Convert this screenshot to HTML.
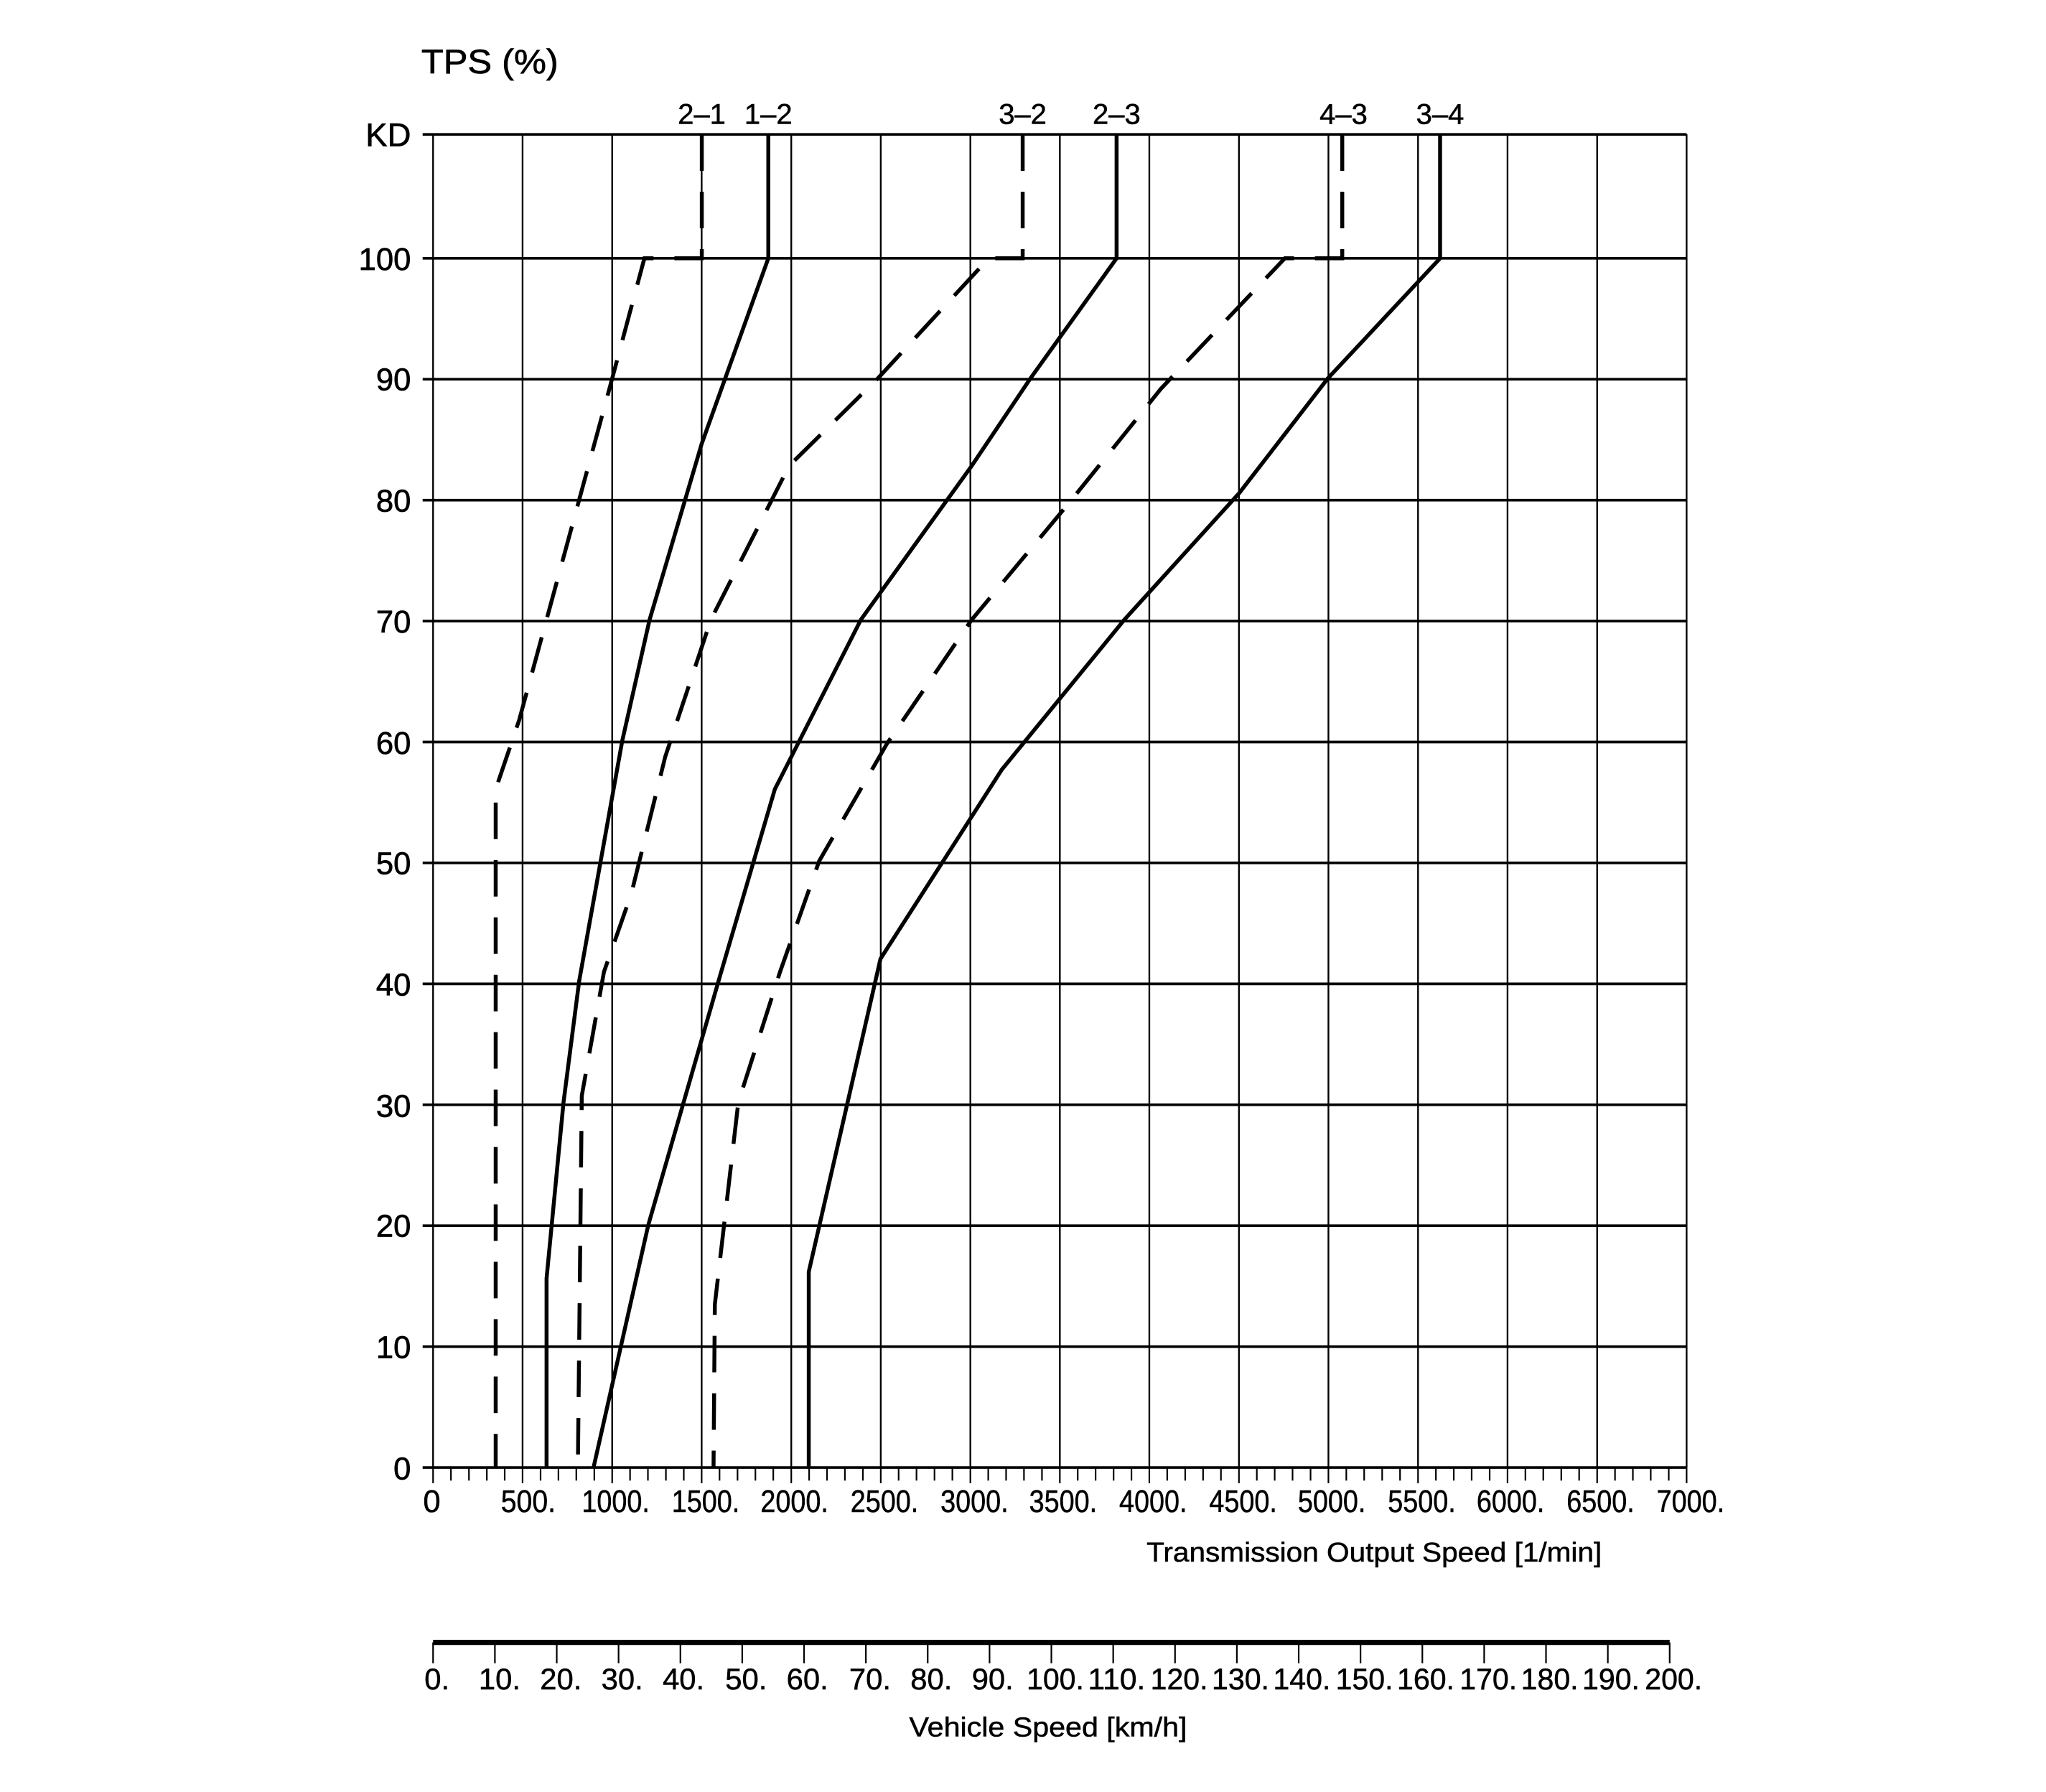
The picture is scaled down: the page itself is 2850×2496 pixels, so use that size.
<!DOCTYPE html>
<html><head><meta charset="utf-8"><style>html,body{margin:0;padding:0;background:#fff}svg{display:block}</style></head><body>
<svg width="2850" height="2496" viewBox="0 0 1568.5 1373.7" xmlns="http://www.w3.org/2000/svg" font-family="Liberation Sans, sans-serif" fill="#000">
<rect width="1568.5" height="1373.7" fill="#fff"/>
<g stroke="#000" stroke-width="1.3">
<line x1="332" y1="103" x2="332" y2="1125"/><line x1="400.6" y1="103" x2="400.6" y2="1125"/><line x1="469.3" y1="103" x2="469.3" y2="1125"/><line x1="537.9" y1="103" x2="537.9" y2="1125"/><line x1="606.6" y1="103" x2="606.6" y2="1125"/><line x1="675.2" y1="103" x2="675.2" y2="1125"/><line x1="743.9" y1="103" x2="743.9" y2="1125"/><line x1="812.5" y1="103" x2="812.5" y2="1125"/><line x1="881.1" y1="103" x2="881.1" y2="1125"/><line x1="949.8" y1="103" x2="949.8" y2="1125"/><line x1="1018.4" y1="103" x2="1018.4" y2="1125"/><line x1="1087.1" y1="103" x2="1087.1" y2="1125"/><line x1="1155.7" y1="103" x2="1155.7" y2="1125"/><line x1="1224.4" y1="103" x2="1224.4" y2="1125"/><line x1="1293" y1="103" x2="1293" y2="1125"/>
</g>
<g stroke="#000" stroke-width="2">
<line x1="324" y1="103" x2="1293" y2="103"/><line x1="324" y1="198" x2="1293" y2="198"/><line x1="324" y1="290.7" x2="1293" y2="290.7"/><line x1="324" y1="383.4" x2="1293" y2="383.4"/><line x1="324" y1="476.1" x2="1293" y2="476.1"/><line x1="324" y1="568.8" x2="1293" y2="568.8"/><line x1="324" y1="661.5" x2="1293" y2="661.5"/><line x1="324" y1="754.2" x2="1293" y2="754.2"/><line x1="324" y1="846.9" x2="1293" y2="846.9"/><line x1="324" y1="939.6" x2="1293" y2="939.6"/><line x1="324" y1="1032.3" x2="1293" y2="1032.3"/><line x1="324" y1="1125" x2="1293" y2="1125"/>
</g>
<path stroke="#000" stroke-width="1.2" d="M332 1125V1137M345.7 1125V1135M359.5 1125V1135M373.2 1125V1135M386.9 1125V1135M400.6 1125V1137M414.4 1125V1135M428.1 1125V1135M441.8 1125V1135M455.6 1125V1135M469.3 1125V1137M483 1125V1135M496.7 1125V1135M510.5 1125V1135M524.2 1125V1135M537.9 1125V1137M551.6 1125V1135M565.4 1125V1135M579.1 1125V1135M592.8 1125V1135M606.6 1125V1137M620.3 1125V1135M634 1125V1135M647.7 1125V1135M661.5 1125V1135M675.2 1125V1137M688.9 1125V1135M702.6 1125V1135M716.4 1125V1135M730.1 1125V1135M743.9 1125V1137M757.6 1125V1135M771.3 1125V1135M785 1125V1135M798.8 1125V1135M812.5 1125V1137M826.2 1125V1135M839.9 1125V1135M853.7 1125V1135M867.4 1125V1135M881.1 1125V1137M894.8 1125V1135M908.6 1125V1135M922.3 1125V1135M936 1125V1135M949.8 1125V1137M963.5 1125V1135M977.2 1125V1135M990.9 1125V1135M1004.7 1125V1135M1018.4 1125V1137M1032.1 1125V1135M1045.8 1125V1135M1059.6 1125V1135M1073.3 1125V1135M1087.1 1125V1137M1100.8 1125V1135M1114.5 1125V1135M1128.2 1125V1135M1142 1125V1135M1155.7 1125V1137M1169.4 1125V1135M1183.1 1125V1135M1196.9 1125V1135M1210.6 1125V1135M1224.4 1125V1137M1238.1 1125V1135M1251.8 1125V1135M1265.5 1125V1135M1279.3 1125V1135M1293 1125V1137"/>
<g fill="none" stroke="#000" stroke-width="3" stroke-linejoin="miter">
<polyline points="589,103 589,198 538,340 498,475 477,568 444,752 432,845 419,980 419,1125"/>
<polyline points="856,103 856,198 790,290 745,357 660,475 594,605 552,748 497,939 455,1125"/>
<polyline points="1104,103 1104,198 1018,290 950,378 862,475 768,590 675,735 620,975 620,1125"/>
</g>
<g fill="none" stroke="#000" stroke-width="3" stroke-dasharray="28,16">
<polyline points="538,103 538,198 494,198 468,295 398,552 380,605 380,1125"/>
<polyline points="784,103 784,198 758,198 673,290 605,357 545,475 510,580 484,685 463,745 446,840 443,1125"/>
<polyline points="1029,103 1029,198 985,198 890,298 820,385 745,475 680,570 628,660 598,745 566,845 548,1000 547,1125"/>
</g>
<line x1="332" y1="1259" x2="1280" y2="1259" stroke="#000" stroke-width="4"/>
<path stroke="#000" stroke-width="1.2" d="M332 1259V1275M379.4 1259V1275M426.8 1259V1275M474.2 1259V1275M521.6 1259V1275M569 1259V1275M616.4 1259V1275M663.8 1259V1275M711.2 1259V1275M758.6 1259V1275M806 1259V1275M853.4 1259V1275M900.8 1259V1275M948.2 1259V1275M995.6 1259V1275M1043 1259V1275M1090.4 1259V1275M1137.8 1259V1275M1185.2 1259V1275M1232.6 1259V1275M1280 1259V1275"/>
<g font-size="24" text-anchor="end" stroke="#000" stroke-width="0.4">
<text x="315" y="112" font-size="25">KD</text><text x="315" y="207">100</text><text x="315" y="299">90</text><text x="315" y="392">80</text><text x="315" y="485">70</text><text x="315" y="578">60</text><text x="315" y="670">50</text><text x="315" y="763">40</text><text x="315" y="856">30</text><text x="315" y="948">20</text><text x="315" y="1041">10</text><text x="315" y="1134">0</text>
</g>
<text x="323" y="56" font-size="26" textLength="105" lengthAdjust="spacingAndGlyphs" stroke="#000" stroke-width="0.4">TPS (%)</text>
<g font-size="22" text-anchor="middle" stroke="#000" stroke-width="0.3">
<text x="538" y="95">2–1</text><text x="589" y="95">1–2</text><text x="784" y="95">3–2</text><text x="856" y="95">2–3</text><text x="1030" y="95">4–3</text><text x="1104" y="95">3–4</text>
</g>
<g font-size="24" text-anchor="middle" stroke="#000" stroke-width="0.3">
<text x="331" y="1159">0</text><text x="405" y="1159" textLength="42" lengthAdjust="spacingAndGlyphs">500.</text><text x="472" y="1159" textLength="52" lengthAdjust="spacingAndGlyphs">1000.</text><text x="541" y="1159" textLength="52" lengthAdjust="spacingAndGlyphs">1500.</text><text x="609" y="1159" textLength="52" lengthAdjust="spacingAndGlyphs">2000.</text><text x="678" y="1159" textLength="52" lengthAdjust="spacingAndGlyphs">2500.</text><text x="747" y="1159" textLength="52" lengthAdjust="spacingAndGlyphs">3000.</text><text x="815" y="1159" textLength="52" lengthAdjust="spacingAndGlyphs">3500.</text><text x="884" y="1159" textLength="52" lengthAdjust="spacingAndGlyphs">4000.</text><text x="953" y="1159" textLength="52" lengthAdjust="spacingAndGlyphs">4500.</text><text x="1021" y="1159" textLength="52" lengthAdjust="spacingAndGlyphs">5000.</text><text x="1090" y="1159" textLength="52" lengthAdjust="spacingAndGlyphs">5500.</text><text x="1158" y="1159" textLength="52" lengthAdjust="spacingAndGlyphs">6000.</text><text x="1227" y="1159" textLength="52" lengthAdjust="spacingAndGlyphs">6500.</text><text x="1296" y="1159" textLength="52" lengthAdjust="spacingAndGlyphs">7000.</text>
</g>
<text x="879" y="1197" font-size="21" textLength="349" lengthAdjust="spacingAndGlyphs" stroke="#000" stroke-width="0.3">Transmission Output Speed [1/min]</text>
<g font-size="23" text-anchor="middle" stroke="#000" stroke-width="0.3">
<text x="335" y="1295">0.</text><text x="383" y="1295">10.</text><text x="430" y="1295">20.</text><text x="477" y="1295">30.</text><text x="524" y="1295">40.</text><text x="572" y="1295">50.</text><text x="619" y="1295">60.</text><text x="667" y="1295">70.</text><text x="714" y="1295">80.</text><text x="761" y="1295">90.</text><text x="809" y="1295" textLength="44" lengthAdjust="spacingAndGlyphs">100.</text><text x="856" y="1295" textLength="44" lengthAdjust="spacingAndGlyphs">110.</text><text x="904" y="1295" textLength="44" lengthAdjust="spacingAndGlyphs">120.</text><text x="951" y="1295" textLength="44" lengthAdjust="spacingAndGlyphs">130.</text><text x="998" y="1295" textLength="44" lengthAdjust="spacingAndGlyphs">140.</text><text x="1046" y="1295" textLength="44" lengthAdjust="spacingAndGlyphs">150.</text><text x="1093" y="1295" textLength="44" lengthAdjust="spacingAndGlyphs">160.</text><text x="1141" y="1295" textLength="44" lengthAdjust="spacingAndGlyphs">170.</text><text x="1188" y="1295" textLength="44" lengthAdjust="spacingAndGlyphs">180.</text><text x="1235" y="1295" textLength="44" lengthAdjust="spacingAndGlyphs">190.</text><text x="1283" y="1295" textLength="44" lengthAdjust="spacingAndGlyphs">200.</text>
</g>
<text x="697" y="1331" font-size="21" textLength="213" lengthAdjust="spacingAndGlyphs" stroke="#000" stroke-width="0.3">Vehicle Speed [km/h]</text>
</svg>
</body></html>
